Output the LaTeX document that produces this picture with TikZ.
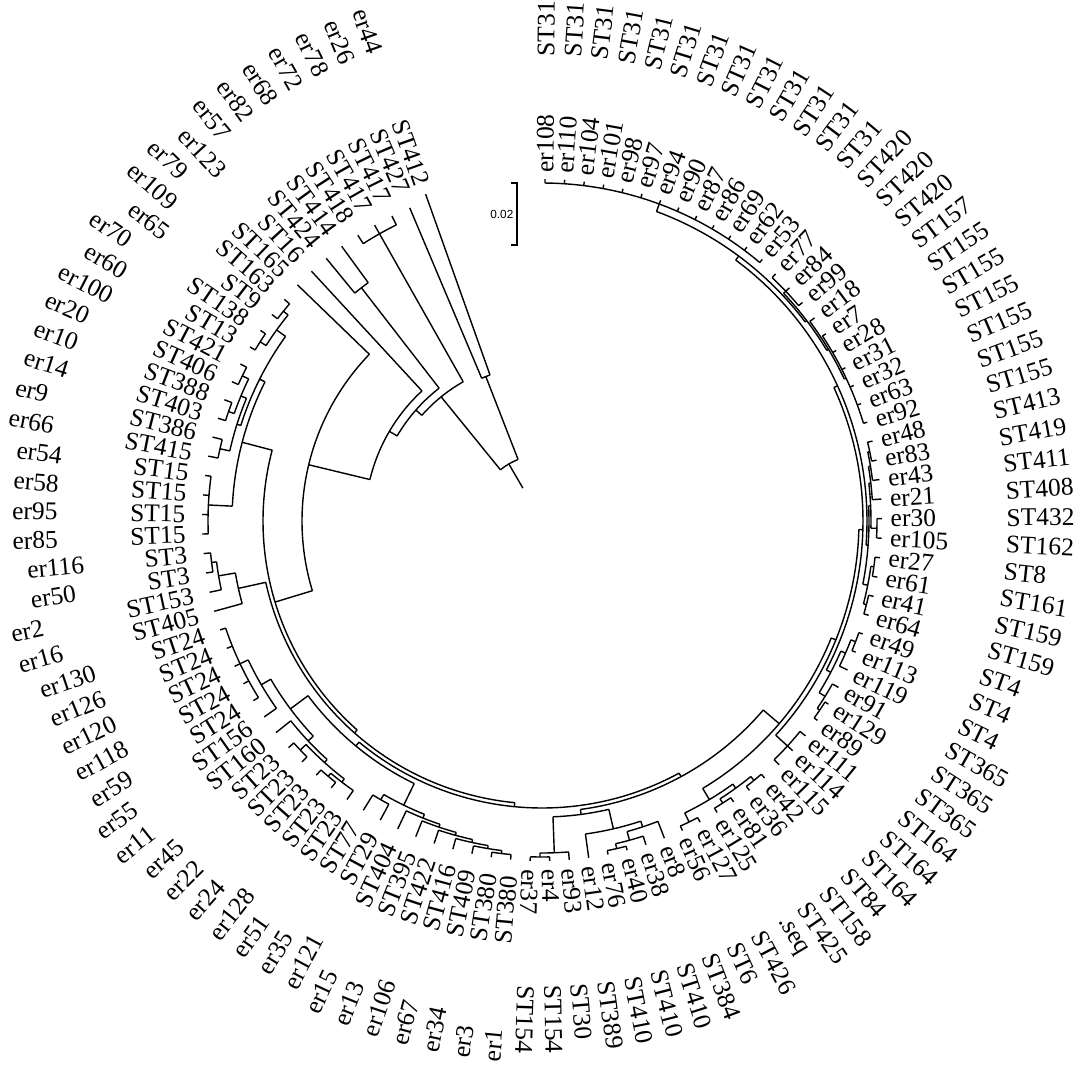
\documentclass[tikz,border=0pt]{standalone}
\usepackage{fontspec}
\setmainfont{Liberation Serif}
\newfontfamily\barfont{Liberation Sans}
\usetikzlibrary{calc}

% rama: arco del nodo (primer hijo, ultimo hijo, radio) y tallo desde el radio del padre
\newcommand\brclade[4]{%
  \pgfmathsetmacro\brA{89.5-3.3*(#1)}%
  \pgfmathsetmacro\brB{89.5-3.3*(#2)}%
  \pgfmathsetmacro\brM{89.5-1.65*((#1)+(#2))}%
  \draw (\brA:#3) arc[start angle=\brA, end angle=\brB, radius=#3];%
  \draw (\brM:#4) -- (\brM:#3);}
% hoja: posicion, radio del padre, radio de la punta
\newcommand\brtip[3]{%
  \pgfmathsetmacro\brA{89.5-3.3*(#1)}%
  \draw (\brA:#2) -- (\brA:#3);}

\begin{document}
\begin{tikzpicture}[x=0.02cm,y=0.02cm,line width=0.8pt,
  lbl/.style={inner sep=0pt,font=\fontsize{14.5}{16}\selectfont}]
\useasboundingbox (-542,-552) rectangle (542,521);

% raiz y ramas largas
	\brclade{97.095}{102.5}{66}{38}
	\brclade{102}{103}{155}{66}
	\brclade{94.195}{100}{160}{66}
	\brclade{99}{101}{330}{160}
	\brclade{90.885}{97.5}{168}{160}
	\brclade{97}{98}{295}{168}
	\brclade{85.775}{96}{177}{168}
	\brclade{76.5475}{95}{240}{177}
	\brclade{66.9725}{86.125}{279}{240}
	\brclade{56.07}{77.875}{283}{279}
	\brclade{45.7455}{66.395}{287}{283}
	\brclade{39.3965}{52.094}{291}{287}

% grupo ST15 a ST421
	\brclade{82.5}{89.75}{310}{279}
	\brclade{81}{84}{334}{310}
	\brclade{87}{92.5}{316}{310}
	\brclade{85.5}{88.5}{320}{316}
	\brclade{85}{86}{330}{320}
	\brclade{87.5}{89.5}{326}{320}
	\brclade{87}{88}{332}{326}
	\brclade{89}{90}{333}{326}
	\brclade{91.5}{93.5}{327}{316}
	\brclade{91}{92}{334}{327}
	\brclade{93}{94}{333}{327}

% grupo ST405 a ST3
	\brclade{77}{78.75}{311}{283}
	\brclade{78}{79.5}{328}{311}
	\brclade{79}{80}{333}{328}

% grupo ST380 a ST24
	\brclade{62.258}{70.53}{292}{287}
	\brclade{61.0155}{63.5}{316}{292}
	\brclade{60.031}{62}{320}{316}
	\brclade{59.0625}{61}{323}{320}
	\brclade{58.125}{60}{326}{323}
	\brclade{57.25}{59}{329}{326}
	\brclade{56.5}{58}{332}{329}
	\brclade{56}{57}{335}{332}
	\brclade{63}{64}{322}{316}
	\brclade{68.5625}{72.5}{314}{292}
	\brclade{67.125}{70}{321}{314}
	\brclade{65.75}{68.5}{325}{321}
	\brclade{65}{66.5}{329}{325}
	\brclade{66}{67}{333}{329}
	\brclade{68}{69}{333}{325}
	\brclade{71}{74}{325}{314}
	\brclade{72}{76}{334}{325}

% grupo er8 a er37
	\brclade{50.4375}{53.75}{296}{291}
	\brclade{48.875}{52}{316}{296}
	\brclade{48}{49.75}{322}{316}
	\brclade{49}{50.5}{331}{322}
	\brclade{50}{51}{336}{331}
	\brclade{53}{54.5}{332}{296}
	\brclade{54}{55}{336}{332}

% grupo er108 a er56
	\brclade{33.793}{45}{312}{291}
	\brclade{43.5}{46.5}{325}{312}
	\brclade{42.5}{44.5}{330}{325}
	\brclade{42}{43}{335}{330}
	\brclade{44}{45}{335}{330}
	\brclade{46}{47}{335}{325}
	\brclade{27.586}{40}{317}{312}
	\brclade{39}{41}{333}{317}
	\brclade{19.672}{35.5}{321}{317}
	\brclade{34.25}{36.75}{326}{321}
	\brclade{33.5}{35}{331}{326}
	\brclade{33}{34}{336}{331}
	\brclade{36}{37.5}{333}{326}
	\brclade{37}{38}{336}{333}
	\brclade{10.9375}{28.406}{325}{321}
	\brclade{26.3125}{30.5}{327}{325}
	\brclade{25.125}{27.5}{329}{327}
	\brclade{24.25}{26}{331}{329}
	\brclade{23.5}{25}{333}{331}
	\brclade{23}{24}{335}{333}
	\brclade{27}{28}{335}{329}
	\brclade{29.5}{31.5}{332}{327}
	\brclade{29}{30}{335}{332}
	\brclade{31}{32}{335}{332}
	\brclade{6}{15.875}{330}{325}
	\brclade{0}{12}{338}{330}
	\brclade{14}{17.75}{332}{330}
	\brclade{13}{15}{335}{332}
	\brclade{16}{19.5}{334}{332}
	\brclade{17}{22}{336}{334}

% hojas
	\foreach \p in {0,...,12}
		\brtip{\p}{338}{342};
	\foreach \p/\r in {13/335, 14/335, 15/335, 16/334, 17/336, 18/336, 19/336, 20/336,
		21/336, 22/336, 23/335, 24/335, 25/333, 26/331, 27/335, 28/335, 29/335, 30/335,
		31/335, 32/335, 33/336, 34/336, 35/331, 36/333, 37/336, 38/336, 39/333, 40/333,
		41/333, 42/335, 43/335, 44/335, 45/335, 46/335, 47/335, 48/322, 49/331, 50/336,
		51/336, 52/316, 53/332, 54/336, 55/336, 56/335, 57/335, 58/332, 59/329, 60/326,
		61/323, 62/320, 63/322, 64/322, 65/329, 66/333, 67/333, 68/333, 69/333, 70/321,
		71/325, 72/334, 73/334, 74/334, 75/334, 76/334, 77/311, 78/328, 79/333, 80/333,
		81/334, 82/334, 83/334, 84/334, 85/330, 86/330, 87/332, 88/332, 89/333, 90/333,
		91/334, 92/334, 93/333, 94/333, 95/240, 96/177, 97/295, 98/295, 99/330, 100/330,
		101/330, 102/155}
		\brtip{\p}{\r}{340};
	\brtip{103}{155}{347}

% etiquetas
	\foreach \i/\e/\s in {0/er108/ST31, 1/er110/ST31, 2/er104/ST31, 3/er101/ST31,
		4/er98/ST31, 5/er97/ST31, 6/er94/ST31, 7/er90/ST31, 8/er87/ST31, 9/er86/ST31,
		10/er69/ST31, 11/er62/ST31, 12/er53/ST31, 13/er77/ST420, 14/er84/ST420,
		15/er99/ST420, 16/er18/ST157, 17/er7/ST155, 18/er28/ST155, 19/er31/ST155,
		20/er32/ST155, 21/er63/ST155, 22/er92/ST155, 23/er48/ST413, 24/er83/ST419,
		25/er43/ST411, 26/er21/ST408, 27/er30/ST432, 28/er105/ST162, 29/er27/ST8,
		30/er61/ST161, 31/er41/ST159, 32/er64/ST159, 33/er49/ST4, 34/er113/ST4,
		35/er119/ST4, 36/er91/ST365, 37/er129/ST365, 38/er89/ST365, 39/er111/ST164,
		40/er114/ST164, 41/er115/ST164, 42/er42/ST84, 43/er36/ST158, 44/er81/ST425,
		45/er125/.seq, 46/er127/ST426, 47/er56/ST6, 48/er8/ST384, 49/er38/ST410,
		50/er40/ST410, 51/er76/ST410, 52/er12/ST389, 53/er93/ST30, 54/er4/ST154,
		55/er37/ST154, 56/er1/ST380, 57/er3/ST380, 58/er34/ST409, 59/er67/ST416,
		60/er106/ST422, 61/er13/ST395, 62/er15/ST404, 63/er121/ST29, 64/er35/ST77,
		65/er51/ST23, 66/er128/ST23, 67/er24/ST23, 68/er22/ST23, 69/er45/ST23,
		70/er11/ST160, 71/er55/ST156, 72/er59/ST24, 73/er118/ST24, 74/er120/ST24,
		75/er126/ST24, 76/er130/ST24, 77/er16/ST405, 78/er2/ST153, 79/er50/ST3,
		80/er116/ST3, 81/er85/ST15, 82/er95/ST15, 83/er58/ST15, 84/er54/ST15,
		85/er66/ST415, 86/er9/ST386, 87/er14/ST403, 88/er10/ST388, 89/er20/ST406,
		90/er100/ST421, 91/er60/ST13, 92/er70/ST138, 93/er65/ST9, 94/er109/ST163,
		95/er79/ST165, 96/er123/ST16, 97/er57/ST424, 98/er82/ST414, 99/er68/ST418,
		100/er72/ST417, 101/er78/ST417, 102/er26/ST427, 103/er44/ST412}{
		\pgfmathsetmacro\la{89.5-3.3*\i}
		\ifnum\i<56
			\node[lbl,anchor=west,rotate=\la] (er\i) at (\la:348) {\e};
			\node[lbl,anchor=west,rotate=\la] (st\i) at ($(er\i.west)+(\la:116)$) {\s};
		\else
			\node[lbl,anchor=east,rotate=\la+180] (st\i) at (\la:356) {\s};
			\node[lbl,anchor=west,rotate=\la+180] (er\i) at ($(st\i.west)+(\la:118)$) {\e};
		\fi
	}

% escala
	\draw (-31,338) -- (-25,338) -- (-25,276) -- (-31,276);
	\node[anchor=east,inner sep=0pt,font=\barfont\fontsize{6.7}{8}\selectfont] (escala) at (-28,307) {0.02};
\end{tikzpicture}
\end{document}
